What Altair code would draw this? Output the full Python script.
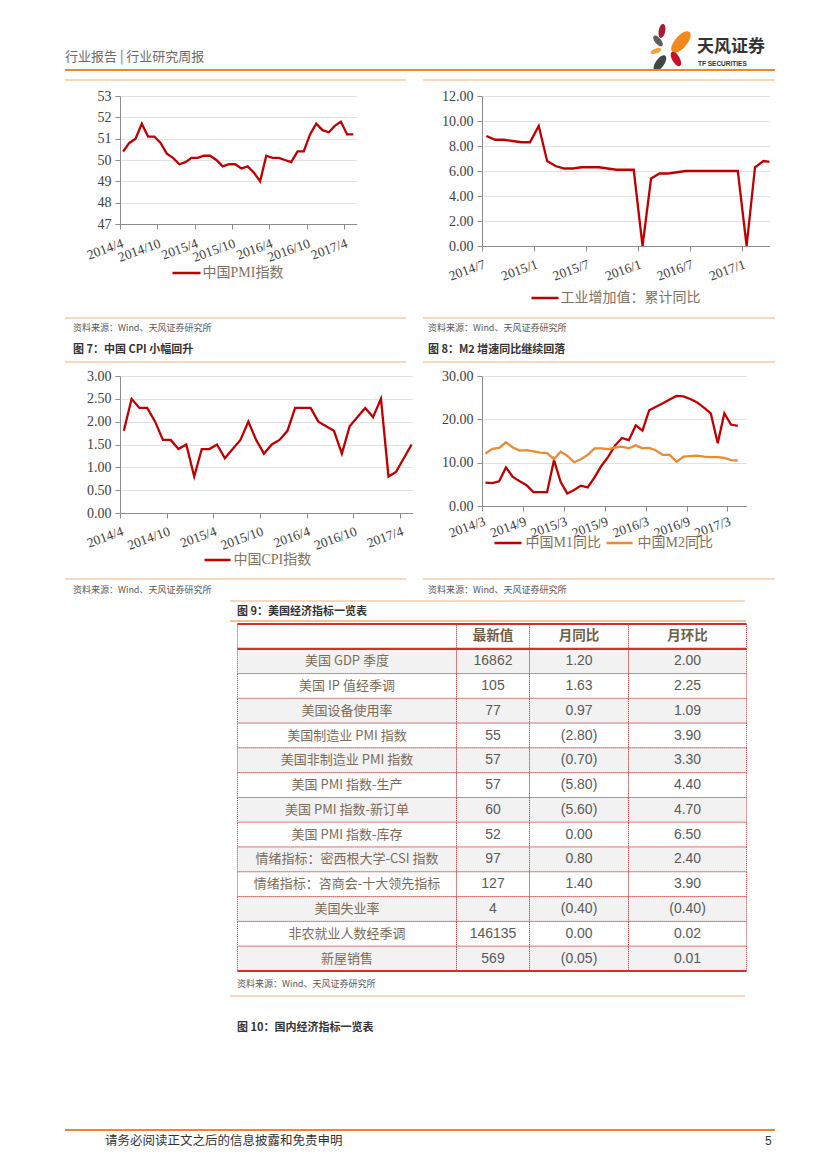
import altair as alt
import pandas as pd

# ---------------- data ----------------
pmi_name = "中国PMI指数"
pmi_first = "2014-04-01"
pmi_values = [50.4, 50.8, 51.0, 51.7, 51.1, 51.1, 50.8, 50.3, 50.1,
              49.8, 49.9, 50.1, 50.1, 50.2, 50.2, 50.0, 49.7, 49.8, 49.8, 49.6, 49.7,
              49.4, 49.0, 50.2, 50.1, 50.1, 50.0, 49.9, 50.4, 50.4, 51.2, 51.7, 51.4,
              51.3, 51.6, 51.8, 51.2, 51.2]
pmi_yticks = [47, 48, 49, 50, 51, 52, 53]
pmi_xticks = [(2014, 4), (2014, 10), (2015, 4), (2015, 10), (2016, 4), (2016, 10), (2017, 4)]

ip_name = "工业增加值：累计同比"
ip_first = "2014-07-01"
ip_values = [8.8, 8.5, 8.5, 8.4, 8.3, 8.3,
             9.6, 6.8, 6.4, 6.2, 6.2, 6.3, 6.3, 6.3, 6.2, 6.1, 6.1, 6.1,
             0.0, 5.4, 5.8, 5.8, 5.9, 6.0, 6.0, 6.0, 6.0, 6.0, 6.0, 6.0,
             0.0, 6.3, 6.8, 6.7]
ip_yticks = [0, 2, 4, 6, 8, 10, 12]
ip_xticks = [(2014, 7), (2015, 1), (2015, 7), (2016, 1), (2016, 7), (2017, 1)]

cpi_name = "中国CPI指数"
cpi_first = "2014-04-01"
cpi_values = [1.8, 2.5, 2.3, 2.3, 2.0, 1.6, 1.6, 1.4, 1.5,
              0.8, 1.4, 1.4, 1.5, 1.2, 1.4, 1.6, 2.0, 1.6, 1.3, 1.5, 1.6,
              1.8, 2.3, 2.3, 2.3, 2.0, 1.9, 1.8, 1.3, 1.9, 2.1, 2.3, 2.1,
              2.5, 0.8, 0.9, 1.2, 1.5]
cpi_yticks = [0, 0.5, 1.0, 1.5, 2.0, 2.5, 3.0]
cpi_xticks = pmi_xticks

m1_name = "中国M1同比"
m2_name = "中国M2同比"
m_first = "2014-03-01"
m1_values = [5.4, 5.3, 5.7, 8.9, 6.7, 5.7, 4.8, 3.2, 3.2, 3.2,
             10.6, 5.6, 2.9, 3.7, 4.7, 4.3, 6.6, 9.3, 11.4, 14.0, 15.7, 15.2,
             18.6, 17.4, 22.1, 22.9, 23.7, 24.6, 25.4, 25.3, 24.7, 23.9, 22.7, 21.4,
             14.5, 21.4, 18.8, 18.5]
m2_values = [12.1, 13.2, 13.4, 14.7, 13.5, 12.8, 12.9, 12.6, 12.3, 12.2,
             10.8, 12.5, 11.6, 10.1, 10.8, 11.8, 13.3, 13.3, 13.1, 13.5, 13.7, 13.3,
             14.0, 13.3, 13.4, 12.8, 11.8, 11.8, 10.2, 11.4, 11.5, 11.6, 11.4, 11.3,
             11.3, 11.1, 10.6, 10.5]
m_yticks = [0, 10, 20, 30]
m_xticks = [(2014, 3), (2014, 9), (2015, 3), (2015, 9), (2016, 3), (2016, 9), (2017, 3)]

tbl_header = ["", "最新值", "月同比", "月环比"]
tbl_labels = ["美国 GDP 季度", "美国 IP 值经季调", "美国设备使用率", "美国制造业 PMI 指数",
              "美国非制造业 PMI 指数", "美国 PMI 指数-生产", "美国 PMI 指数-新订单",
              "美国 PMI 指数-库存", "情绪指标：密西根大学-CSI 指数",
              "情绪指标：咨商会-十大领先指标", "美国失业率", "非农就业人数经季调", "新屋销售"]
tbl_latest = [16862, 105, 77, 55, 57, 57, 60, 52, 97, 127, 4, 146135, 569]
tbl_yoy = [1.20, 1.63, 0.97, -2.80, -0.70, -5.80, -5.60, 0.00, 0.80, 1.40, -0.40, 0.00, -0.05]
tbl_mom = [2.00, 2.25, 1.09, 3.90, 3.30, 4.40, 4.70, 6.50, 2.40, 3.90, -0.40, 0.02, 0.01]

# ---------------- styles ----------------
SERIF = "Liberation Serif, Noto Sans CJK SC"
SANS = "Noto Sans CJK SC, Liberation Sans"
RED = "#C00000"
ORANGE = "#ED8B2F"
AXIS = "#8C8C8C"
GRID = "#E2E2E2"
LABEL = "#404040"
LEGTXT = "#7F7262"
ORANGE_DARK = "#E8892B"
ORANGE_LIGHT = "#F5CBA7"

dummy = pd.DataFrame({"d": [0]})


def dt(y, m, d=1):
    return alt.DateTime(year=y, month=m, date=d, utc=True)


def monthly(first, values):
    dates = pd.date_range(first, periods=len(values), freq="MS").strftime("%Y-%m-%d").tolist()
    return pd.DataFrame({"date": dates, "value": values})


def hrule(x0, x1, y, color, w=1.0):
    return alt.Chart(dummy).mark_rule(color=color, strokeWidth=w).encode(
        x=alt.value(x0), x2=alt.value(x1), y=alt.value(y))


def label(x, y, s, size, color, weight="normal", font=SANS, align="left"):
    return alt.Chart(dummy).mark_text(
        align=align, baseline="middle", fontSize=size, font=font, color=color,
        fontWeight=weight).encode(x=alt.value(x), y=alt.value(y), text=alt.value(s))


def line_panel(series, xdom, xticks, yticks, yfmt, width, height, legend, lpad):
    x = alt.X(field="date", type="temporal", timeUnit="utcyearmonth", bandPosition=0.5,
              scale=alt.Scale(domain=[dt(*xdom[0]), dt(*xdom[1])], nice=False),
              axis=alt.Axis(values=[dt(y, m) for y, m in xticks],
                            labelExpr="utcFormat(datum.value, '%Y/%-m')",
                            labelAngle=340, labelAlign="right",
                            labelBaseline="top", labelPadding=lpad, labelFont=SERIF,
                            labelFontSize=13.5, labelColor=LABEL, labelFlush=False,
                            labelOverlap=False, domainColor=AXIS, tickColor=AXIS,
                            tickSize=5, grid=False, title=None))
    y = alt.Y(field="value", type="quantitative",
              scale=alt.Scale(domain=[yticks[0], yticks[-1]], nice=False, zero=False),
              axis=alt.Axis(values=yticks, format=yfmt, labelFont=SERIF, labelFontSize=14,
                            labelColor=LABEL, labelPadding=4, labelFlush=False,
                            domainColor=AXIS, tickColor=AXIS, tickSize=5, grid=True,
                            gridColor=GRID, gridWidth=1, title=None))
    layers = []
    for df, color in series:
        layers.append(alt.Chart(df).mark_line(color=color, strokeWidth=2.3, clip=True)
                      .encode(x=x, y=y))
    for x0, x1, ly, tx, name, color in legend:
        layers.append(hrule(x0, x1, ly, color, 2.5))
        layers.append(label(tx, ly, name, 14, LEGTXT, font=SERIF))
    return alt.layer(*layers).properties(width=width, height=height)


def spacer(w, h):
    return alt.Chart(dummy).mark_point(opacity=0, size=1).encode(
        x=alt.value(1), y=alt.value(1)).properties(width=w, height=h)


# ---------------- grid geometry (page x = 8 + canvas x) ----------------
C0 = 111.5          # left charts start at page x 119.5
C1 = 292.5          # widest chart of column 1
C2 = 68.5           # right charts start at page x 480.5
LEFT_X = 8 + C0
RIGHT_X = 8 + C0 + C1 + C2

# ---------------- charts ----------------
pmi = line_panel([(monthly(pmi_first, pmi_values), RED)], ((2014, 4), (2017, 6)),
                 pmi_xticks, pmi_yticks, "d", 356 - LEFT_X, 128,
                 [(172 - LEFT_X, 200 - LEFT_X, 177, 202 - LEFT_X, pmi_name, RED)], 7)
ip = line_panel([(monthly(ip_first, ip_values), RED)], ((2014, 7), (2017, 4, 7)),
                ip_xticks, ip_yticks, ".2f", 768 - RIGHT_X, 150,
                [(530 - RIGHT_X, 557 - RIGHT_X, 202, 559 - RIGHT_X, ip_name, RED)], 6)
cpi = line_panel([(monthly(cpi_first, cpi_values), RED)], ((2014, 4), (2017, 5, 20)),
                 cpi_xticks, cpi_yticks, ".2f", 412 - LEFT_X, 137,
                 [(204 - LEFT_X, 230 - LEFT_X, 184, 233 - LEFT_X, cpi_name, RED)], 6)
mm = line_panel([(monthly(m_first, m1_values), RED), (monthly(m_first, m2_values), ORANGE)],
                ((2014, 3), (2017, 5, 25)), m_xticks, m_yticks, ".2f", 745 - RIGHT_X, 130,
                [(493 - RIGHT_X, 520 - RIGHT_X, 167, 524 - RIGHT_X, m1_name, RED),
                 (605 - RIGHT_X, 631 - RIGHT_X, 167, 636 - RIGHT_X, m2_name, ORANGE)], 3)

# ---------------- table ----------------
TX = 237 - LEFT_X   # table drawn at page x 237
TW, TH = 509, 347
NROWS = len(tbl_labels) + 1
BAND = TH / NROWS
col_edges = [TX + e for e in [0, 219, 292, 391, 509]]
col_mid = [(a + b) / 2 for a, b in zip(col_edges[:-1], col_edges[1:])]


def fmt(v):
    return f"({abs(v):.2f})" if v < 0 else f"{v:.2f}"


body = pd.DataFrame({
    "row": list(range(1, NROWS)),
    "label": tbl_labels,
    "latest": [str(v) for v in tbl_latest],
    "yoy": [fmt(v) for v in tbl_yoy],
    "mom": [fmt(v) for v in tbl_mom],
})
body["fill"] = ["#F2F2F2" if r % 2 == 1 else "#FFFFFF" for r in body["row"]]
head = pd.DataFrame({"row": [0], "c0": [tbl_header[0]], "c1": [tbl_header[1]],
                     "c2": [tbl_header[2]], "c3": [tbl_header[3]], "fill": ["#FFFFFF"]})
cells = pd.concat([head[["row", "fill"]], body[["row", "fill"]]], ignore_index=True)

yband = alt.Scale(domain=list(range(NROWS)), paddingInner=0, paddingOuter=0)
yrect = alt.Y("row:O", scale=yband, axis=None)
ytext = alt.Y("row:O", scale=yband, axis=None, bandPosition=0.5)

tlayers = []
for a, b in zip(col_edges[:-1], col_edges[1:]):
    tlayers.append(alt.Chart(cells).mark_rect(stroke="#C62828", strokeDash=[1, 1],
                                              strokeWidth=0.9).encode(
        x=alt.value(a), x2=alt.value(b), y=yrect, fill=alt.Fill("fill:N", scale=None)))
for yy in [0, BAND, TH]:
    tlayers.append(hrule(TX, TX + TW, yy, "#D7302A", 2.2))
tlayers.append(alt.Chart(body).mark_text(fontSize=13, font=SANS, color="#7B6B58").encode(
    x=alt.value(col_mid[0]), y=ytext, text="label:N"))
for i, col in enumerate(["latest", "yoy", "mom"]):
    tlayers.append(alt.Chart(body).mark_text(fontSize=14, font="Liberation Sans",
                                             color="#5A5A5A").encode(
        x=alt.value(col_mid[i + 1]), y=ytext, text=f"{col}:N"))
for i in range(1, 4):
    tlayers.append(alt.Chart(head).mark_text(fontSize=13.5, font=SANS, fontWeight="bold",
                                             color="#6E5E48").encode(
        x=alt.value(col_mid[i]), y=ytext, text=f"c{i}:N"))
table = alt.layer(*tlayers).properties(width=C1, height=TH)

# ---------------- page furniture (page coords minus 8px margin) ----------------
O = 8
PETAL = "M0,-1C0.62,-1 0.62,1 0,1C-0.62,1 -0.62,-1 0,-1Z"


def petal(x, y, h, ang, color):
    return alt.Chart(dummy).mark_point(shape=PETAL, filled=True, fill=color, color=color,
                                       opacity=1, size=h * h, angle=ang, strokeWidth=0).encode(
        x=alt.value(x - O), y=alt.value(y - O))


def P(x0, x1, y, color, w=1.0):
    return hrule(x0 - O, x1 - O, y - O, color, w)


def T(x, y, s, size, color, weight="normal", font=SANS, align="left"):
    return label(x - O, y - O, s, size, color, weight, font, align)


src = "资料来源：Wind、天风证券研究所"
deco = [
    T(65, 57, "行业报告 | 行业研究周报", 13, "#6A6A6A"),
    petal(662, 31, 14, 10, "#A61E36"),
    petal(681, 42, 26, 40, "#F08A1C"),
    petal(658, 41, 13, 320, "#5E5E5E"),
    petal(656, 51, 11, 70, "#F2A33A"),
    petal(676, 59, 16, 330, "#C8102E"),
    petal(660, 63, 18, 35, "#444444"),
    T(697, 47, "天风证券", 17, "#333333", "bold"),
    T(698, 64, "TF SECURITIES", 6.5, "#333333", "bold", "Liberation Sans"),
    P(65, 775, 70, ORANGE_DARK, 2),
    P(65, 406, 80, ORANGE_LIGHT, 1.5), P(423, 775, 80, ORANGE_LIGHT, 1.5),
    P(65, 406, 318, ORANGE_LIGHT, 1.5), P(423, 775, 318, ORANGE_LIGHT, 1.5),
    T(73, 328, src, 9, "#595959"), T(428, 328, src, 9, "#595959"),
    T(73, 350, "图 7：中国 CPI 小幅回升", 11, "#333333", "bold"),
    T(428, 350, "图 8：M2 增速同比继续回落", 11, "#333333", "bold"),
    P(65, 406, 362, ORANGE_LIGHT, 1.5), P(423, 775, 362, ORANGE_LIGHT, 1.5),
    P(65, 406, 579, ORANGE_LIGHT, 1.5), P(423, 775, 579, ORANGE_LIGHT, 1.5),
    T(73, 590, src, 9, "#595959"), T(428, 590, src, 9, "#595959"),
    P(230, 745, 601, ORANGE_LIGHT, 1.5),
    T(237, 612, "图 9：美国经济指标一览表", 11, "#333333", "bold"),
    P(230, 746, 621, "#F0AE74", 1.5),
    T(237, 984, src, 9, "#595959"),
    P(230, 745, 996, ORANGE_LIGHT, 1.5),
    T(237, 1028, "图 10：国内经济指标一览表", 11, "#333333", "bold"),
    P(65, 775, 1130, ORANGE_DARK, 2),
    T(105, 1141, "请务必阅读正文之后的信息披露和免责申明", 12.5, "#333333"),
    T(765, 1141, "5", 12, "#333333", font="Liberation Sans"),
]
canvas = alt.layer(*deco).properties(width=C0, height=88)

items = [
    canvas, spacer(0, 0), spacer(C2, 0), spacer(0, 0),
    spacer(C0, 0), pmi, spacer(0, 0), ip,
    spacer(0, 130), spacer(0, 0), spacer(0, 0), spacer(0, 0),
    spacer(0, 0), cpi, spacer(0, 0), mm,
    spacer(0, 111), spacer(0, 0), spacer(0, 0), spacer(0, 0),
    spacer(0, 0), table, spacer(0, 0), spacer(0, 0),
]
chart = alt.concat(*items, columns=4, spacing=0, bounds="flush",
                   align="each").properties(padding=0).configure_view(strokeWidth=0)

chart.save("out.html", embed_options={"renderer": "svg", "actions": False})
